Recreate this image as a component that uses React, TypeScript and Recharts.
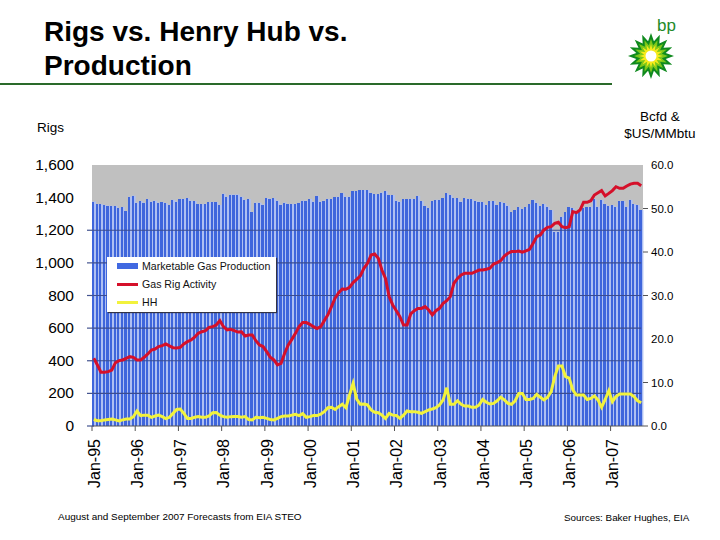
import {
  ComposedChart,
  Bar,
  Line,
  XAxis,
  YAxis,
  CartesianGrid,
  Legend,
} from 'recharts';

const FONT = '"Liberation Sans", Arial, sans-serif';

const years = ['95', '96', '97', '98', '99', '00', '01', '02', '03', '04', '05', '06', '07'];
const monthNames = ['Jan', 'Feb', 'Mar', 'Apr', 'May', 'Jun', 'Jul', 'Aug', 'Sep', 'Oct', 'Nov', 'Dec'];
const months = years
  .flatMap((y) => monthNames.map((m) => `${m}-${y}`))
  .slice(0, 153);

const janTicks = years.map((y) => `Jan-${y}`);
const rigTicks = [0, 200, 400, 600, 800, 1000, 1200, 1400, 1600];
const rightTicks = [0, 10, 20, 30, 40, 50, 60];
const gridRigs = [200, 400, 600, 800, 1000, 1200];
const markedRight = [0, 10, 30, 40, 50];

// Bcfd, right axis
const production = [
  51.6, 51.0, 51.0, 50.8, 50.65, 50.6, 50.6, 50.1, 50.35, 49.4, 52.7, 52.95,
  51.35, 51.7, 51.35, 52.1, 51.6, 51.8, 51.35, 51.5, 51.2, 50.8, 52.0, 51.6,
  52.2, 52.2, 52.4, 51.8, 51.7, 51.0, 51.0, 51.05, 51.5, 51.5, 51.5, 50.8,
  53.4, 52.7, 53.2, 53.2, 53.2, 52.7, 52.0, 52.2, 49.2, 51.35, 51.35, 50.9,
  52.4, 52.2, 52.3, 51.8, 50.9, 51.35, 51.05, 51.05, 51.05, 51.3, 51.8, 51.8,
  52.2, 51.6, 52.9, 51.6, 51.8, 52.2, 52.2, 52.65, 52.7, 53.5, 52.7, 52.7,
  54.0, 53.95, 54.25, 54.25, 54.25, 53.5, 53.25, 53.25, 53.65, 53.95, 53.1, 53.1,
  51.8, 51.6, 52.1, 52.1, 52.25, 52.1, 52.9, 51.7, 50.6, 50.1, 51.7, 52.0,
  52.0, 52.35, 53.5, 53.05, 52.35, 52.35, 51.6, 52.35, 52.2, 52.1, 51.7, 51.6,
  51.4, 50.8, 51.7, 51.7, 50.8, 51.5, 51.2, 50.65, 49.1, 49.65, 50.3, 49.8,
  50.3, 51.0, 52.0, 51.2, 50.6, 51.05, 50.4, 49.65, 44.7, 44.7, 48.1, 49.1,
  50.3, 50.05, 49.3, 49.3, 50.05, 50.3, 50.4, 52.1, 50.4, 52.0, 51.0, 50.6,
  50.8, 50.4, 51.7, 51.7, 50.4, 52.0, 51.05, 50.8, 49.65,
];

// rig count, left axis
const rigs = [
  415, 374, 329, 329, 333, 343, 388, 401, 405, 415, 425, 421,
  405, 405, 421, 442, 466, 472, 487, 493, 503, 491, 480, 478,
  482, 503, 517, 527, 544, 568, 578, 585, 605, 609, 619, 646,
  609, 589, 593, 585, 576, 578, 552, 558, 558, 523, 497, 487,
  456, 421, 405, 374, 384, 446, 497, 531, 568, 609, 634, 634,
  623, 609, 597, 609, 646, 681, 732, 783, 817, 840, 838, 850,
  879, 899, 920, 967, 997, 1048, 1054, 1028, 956, 905, 793, 742,
  707, 670, 619, 619, 687, 707, 721, 721, 732, 711, 681, 707,
  721, 752, 768, 793, 875, 905, 926, 936, 936, 936, 946, 956,
  956, 961, 967, 993, 1001, 1014, 1042, 1059, 1069, 1069, 1073, 1065,
  1073, 1083, 1120, 1161, 1171, 1202, 1218, 1222, 1242, 1249, 1222, 1216,
  1222, 1314, 1308, 1324, 1371, 1371, 1381, 1416, 1430, 1443, 1410, 1426,
  1443, 1467, 1457, 1457, 1471, 1483, 1488, 1488, 1473,
];

// $US/MMbtu, right axis
const henryHub = [
  1.5, 1.2, 1.2, 1.4, 1.5, 1.6, 1.4, 1.15, 1.4, 1.6, 1.6, 2.15,
  3.45, 2.4, 2.5, 2.5, 2.0, 2.3, 2.5, 2.15, 1.7, 2.0, 2.9, 3.8,
  3.9, 2.9, 1.75, 1.75, 2.0, 2.15, 2.0, 2.0, 2.3, 3.05, 3.1, 2.5,
  2.15, 2.0, 2.15, 2.2, 2.2, 2.0, 2.15, 1.5, 1.4, 2.0, 1.9, 2.0,
  1.75, 1.5, 1.4, 1.75, 2.15, 2.3, 2.3, 2.5, 2.7, 2.4, 2.85, 2.0,
  2.15, 2.4, 2.4, 2.7, 3.3, 4.2, 4.3, 3.8, 4.45, 5.0, 4.2, 7.1,
  9.8, 6.2, 5.0, 5.05, 4.85, 3.7, 3.15, 3.05, 2.5, 1.75, 2.9, 2.5,
  2.4, 1.75, 2.5, 3.45, 3.3, 3.3, 3.15, 2.9, 3.3, 3.7, 3.9, 4.2,
  4.85, 6.0, 8.8, 5.0, 5.0, 5.8, 5.0, 4.6, 4.6, 4.3, 4.3, 4.85,
  6.1, 5.45, 5.05, 5.2, 5.8, 6.6, 6.0, 5.2, 5.0, 5.8, 7.5, 7.5,
  6.1, 6.1, 6.35, 7.3, 6.6, 6.0, 6.6, 7.9, 11.35, 13.8, 13.8, 11.35,
  11.0, 8.3, 7.1, 7.1, 7.1, 6.1, 6.35, 6.9, 6.0, 4.3, 6.1, 8.1,
  5.6, 6.75, 7.35, 7.35, 7.35, 7.35, 6.75, 5.8, 5.35,
];

const chartData = months.map((month, i) => ({
  month,
  production: production[i],
  rigs: rigs[i],
  hh: henryHub[i],
}));

const legendItems = [
  { label: 'Marketable Gas Production', color: '#4169e1', height: 6 },
  { label: 'Gas Rig Activity', color: '#d5102a', height: 3 },
  { label: 'HH', color: '#f2f23c', height: 3 },
];

// light stripe plus narrower dark stripe, like the scanned slide
const StripedBar = (props: any) => {
  const { x, y, width, height } = props;
  return (
    <g>
      <rect x={x} y={y} width={width} height={height} fill="#afc0f2" />
      <rect x={x} y={y} width={width * 0.56} height={height} fill="#3f66dc" shapeRendering="crispEdges" />
    </g>
  );
};

const MonthTick = (props: any) => {
  const { x, y, payload } = props;
  return (
    <g>
      <line x1={x - 1.8} x2={x - 1.8} y1={y} y2={y + 5} stroke="#555" />
      <text
        transform={`translate(${x + 6},${y + 13}) rotate(-90)`}
        textAnchor="end"
        fontSize={16}
        fontFamily={FONT}
        fill="#000"
      >
        {payload.value}
      </text>
    </g>
  );
};

const RigTick = (props: any) => {
  const { x, y, payload } = props;
  return (
    <g>
      {payload.value <= 1200 && <line x1={x - 5} x2={x + 2} y1={y} y2={y} stroke="#44548f" strokeWidth={1.2} />}
      <text x={x - 18} y={y + 5} textAnchor="end" fontSize={15.5} fontFamily={FONT} fill="#000">
        {payload.value.toLocaleString('en-US')}
      </text>
    </g>
  );
};

const RightTick = (props: any) => {
  const { x, y, payload } = props;
  return (
    <g>
      {markedRight.includes(payload.value) && <line x1={x} x2={x + 5} y1={y} y2={y} stroke="#555" />}
      <text x={x + 8} y={y + 4} fontSize={11.5} fontFamily={FONT} fill="#000">
        {payload.value.toFixed(1)}
      </text>
    </g>
  );
};

const LegendBox = () => (
  <div
    style={{
      width: 169,
      height: 55,
      background: '#fff',
      boxShadow: '1px 1px 1px #334',
      position: 'relative',
      fontFamily: FONT,
      fontSize: 10.6,
      color: '#111',
    }}
  >
    {legendItems.map((item, i) => (
      <div key={item.label}>
        <div
          style={{
            position: 'absolute',
            left: 10,
            top: 9 + i * 18 - item.height / 2,
            width: 21,
            height: item.height,
            background: item.color,
          }}
        />
        <div style={{ position: 'absolute', left: 35, top: 3 + i * 18, whiteSpace: 'nowrap' }}>
          {item.label}
        </div>
      </div>
    ))}
  </div>
);

const points = (cx: number, cy: number, r1: number, r2: number, n: number) =>
  Array.from({ length: n * 2 }, (_, i) => {
    const r = i % 2 === 0 ? r1 : r2;
    const a = (Math.PI * i) / n - Math.PI / 2;
    return `${cx + r * Math.cos(a)},${cy + r * Math.sin(a)}`;
  }).join(' ');

const Logo = () => (
  <svg width={60} height={70} style={{ position: 'absolute', left: 621, top: 14 }}>
    <text x={36} y={17} fontSize={17} fontFamily={FONT} fill="#1f8a2a">
      bp
    </text>
    <polygon points={points(30, 42, 23, 15, 16)} fill="#0f8a1e" />
    <polygon points={points(30, 42, 17, 11, 16)} fill="#7cc81a" />
    <polygon points={points(30, 42, 12, 7, 16)} fill="#f6ea1a" />
    <circle cx={30} cy={42} r={5.5} fill="#fff" />
  </svg>
);

const label = (left: number, top: number, text: string, fontSize: number, extra = {}) => (
  <div
    style={{
      position: 'absolute',
      left,
      top,
      fontFamily: FONT,
      fontSize,
      color: '#000',
      whiteSpace: 'nowrap',
      ...extra,
    }}
  >
    {text}
  </div>
);

export default function App() {
  return (
    <div
      style={{
        position: 'absolute',
        left: 0,
        top: 0,
        width: 720,
        height: 540,
        background: '#fff',
        overflow: 'hidden',
      }}
    >
      <ComposedChart
        width={720}
        height={540}
        data={chartData}
        margin={{ top: 165, right: 0, bottom: 0, left: 0 }}
        barCategoryGap={0}
        barGap={0}
      >
        <CartesianGrid fill="#c0c0c0" horizontal={false} vertical={false} yAxisId="rigs" />
        <XAxis
          dataKey="month"
          ticks={janTicks}
          interval={0}
          height={114}
          tick={MonthTick}
          tickLine={false}
          tickSize={0}
          tickMargin={0}
          stroke="#555"
        />
        <YAxis
          yAxisId="rigs"
          width={92}
          domain={[0, 1600]}
          ticks={rigTicks}
          tick={RigTick}
          axisLine={false}
          tickLine={false}
          tickSize={0}
          tickMargin={0}
        />
        <YAxis
          yAxisId="right"
          orientation="right"
          width={77}
          domain={[0, 60]}
          ticks={rightTicks}
          tick={RightTick}
          axisLine={false}
          tickLine={false}
          tickSize={0}
          tickMargin={0}
        />
        <Legend
          layout="vertical"
          align="center"
          verticalAlign="middle"
          content={LegendBox}
          wrapperStyle={{ left: 107, top: 257, width: 169, height: 55, margin: 0 }}
        />
        <Bar
          yAxisId="right"
          dataKey="production"
          name="Marketable Gas Production"
          shape={StripedBar}
          isAnimationActive={false}
        />
        {/* gridlines sit over the bars in the original, so they are drawn as flat lines */}
        {gridRigs.map((v) => (
          <Line
            key={v}
            yAxisId="rigs"
            dataKey={() => v}
            stroke="#3b4c90"
            strokeWidth={1.2}
            dot={false}
            isAnimationActive={false}
            legendType="none"
          />
        ))}
        <Line
          yAxisId="rigs"
          dataKey="rigs"
          name="Gas Rig Activity"
          stroke="#d5102a"
          strokeWidth={3}
          dot={false}
          isAnimationActive={false}
        />
        <Line
          yAxisId="right"
          dataKey="hh"
          name="HH"
          stroke="#f2f23c"
          strokeWidth={3}
          dot={false}
          isAnimationActive={false}
        />
      </ComposedChart>

      {label(44, 15, 'Rigs vs. Henry Hub vs.', 28, { fontWeight: 'bold', lineHeight: '33px' })}
      {label(44, 49, 'Production', 28, { fontWeight: 'bold', lineHeight: '33px' })}
      <div style={{ position: 'absolute', left: 0, top: 83, width: 612, height: 2, background: '#2a6a2a' }} />
      <Logo />
      {label(37, 120, 'Rigs', 13.5)}
      {label(620, 109, 'Bcfd &', 13.5, { width: 80, textAlign: 'center' })}
      {label(620, 126, '$US/MMbtu', 13.5, { width: 80, textAlign: 'center' })}
      {label(58, 511, 'August and September 2007 Forecasts from EIA STEO', 9.95)}
      {label(564, 512, 'Sources: Baker Hughes, EIA', 9.85)}
    </div>
  );
}
